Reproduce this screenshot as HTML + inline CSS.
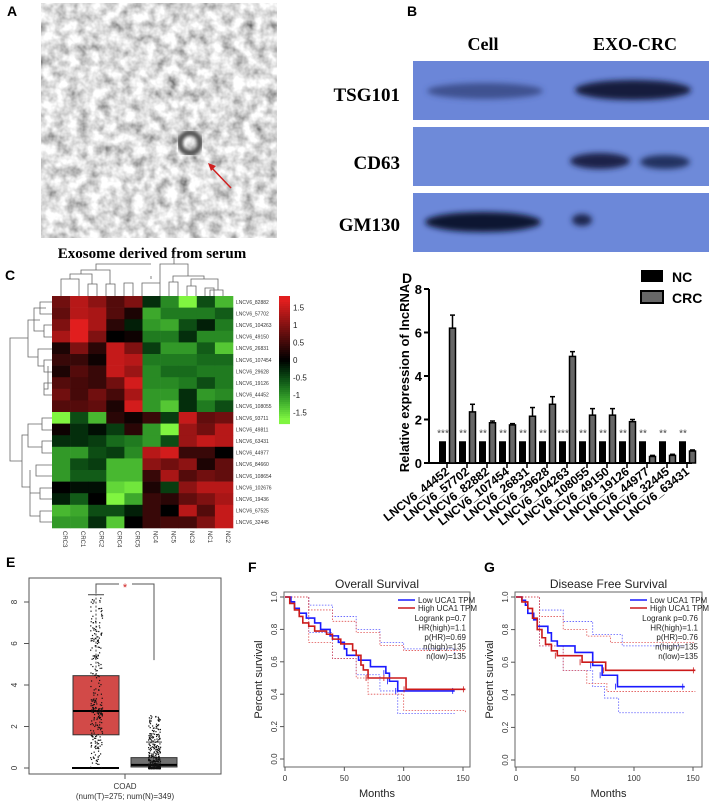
<!DOCTYPE html>
<html><head><meta charset="utf-8"><style>
body{margin:0;background:#fff}
svg{display:block;font-family:"Liberation Sans",sans-serif}
.ser{font-family:"Liberation Serif",serif;font-weight:bold}
</style></head><body>
<svg id="s" width="716" height="801" viewBox="0 0 716 801">
<defs>
<filter id="noise" x="0" y="0" width="100%" height="100%"><feTurbulence type="fractalNoise" baseFrequency="0.09" numOctaves="3" seed="3"/><feColorMatrix type="matrix" values="1.3 0 0 0 0.08  1.3 0 0 0 0.08  1.3 0 0 0 0.08  0 0 0 0 1"/></filter>
<filter id="blur"><feGaussianBlur stdDeviation="3"/></filter>
<filter id="blur2"><feGaussianBlur stdDeviation="1.5"/></filter>
</defs>
<!-- Panel A -->
<g>
<text x="7" y="16" font-weight="bold" font-size="14">A</text>
<rect x="41" y="3" width="236" height="235" fill="#bcbcbc" filter="url(#noise)"/>
<circle cx="190" cy="143" r="10" fill="none" stroke="#555" stroke-width="6" filter="url(#blur2)"/>
<line x1="231" y1="188" x2="210" y2="166" stroke="#d02020" stroke-width="1.5"/>
<path d="M208,163 L216,166 L211,171 Z" fill="#d02020"/>
</g>
<!-- Panel B -->
<g>
<text x="407" y="16" font-weight="bold" font-size="14">B</text>
<text x="483" y="50" class="ser" font-size="18" text-anchor="middle">Cell</text>
<text x="635" y="50" class="ser" font-size="18" text-anchor="middle">EXO-CRC</text>
<text x="400" y="101" class="ser" font-size="19" text-anchor="end">TSG101</text>
<text x="400" y="169" class="ser" font-size="19" text-anchor="end">CD63</text>
<text x="400" y="231" class="ser" font-size="19" text-anchor="end">GM130</text>
<rect x="413" y="61" width="296" height="59" fill="#6b86d8"/>
<rect x="413" y="127" width="296" height="59" fill="#6e8ad9"/>
<rect x="413" y="193" width="296" height="59" fill="#6c88d9"/>
<g filter="url(#blur)">
<ellipse cx="485" cy="91" rx="58" ry="8" fill="#34447e" opacity="0.8"/>
<ellipse cx="633" cy="90" rx="58" ry="10" fill="#141c3c"/>
<ellipse cx="600" cy="161" rx="30" ry="8" fill="#1a2248"/>
<ellipse cx="665" cy="162" rx="25" ry="7" fill="#243060"/>
<ellipse cx="483" cy="222" rx="58" ry="10" fill="#0e1430"/>
<ellipse cx="582" cy="220" rx="10" ry="6" fill="#1e2850"/>
</g>
</g>
<!-- Panel C -->
<g id="heat">
<text x="152" y="258" class="ser" font-size="15" text-anchor="middle">Exosome derived from serum</text>
<text x="5" y="280" font-weight="bold" font-size="14">C</text>
<g id="dendro" stroke="#666" stroke-width="0.8" fill="none">
<path d="M61,296V279H79V296 M88,296V284H97V296 M70,279V274H92V284 M106,296V284H115V296 M81,274V270H110V284 M96,270V264H151 M124,296V283H133V296"/>
<path d="M142,296V283H160V296 M169,296V282H178V296 M187,296V286H196V296 M205,296V288H214V296 M223,296V290H210V296 M191,286V279H218V290 M173,282V276H204V279 M151,276V279 M160,283V264H188V276 M174,264V254"/>
<path d="M52,302H40V314H52 M52,325H44V337H52 M46,308H34V331H44 M52,360H44V372H52 M52,383H44V395H52 M52,349H38V366H44 M48,366V389H44 M40,320H28V357H38 M52,418H42V430H52 M52,441H42V453H52 M52,465H36V476H52 M42,424H28V447H42 M52,488H40V499H52 M52,511H40V522H52 M40,493H30V516H40 M30,470V505 M28,435H22V487H30 M28,338H10V461H22"/>
</g>
<g id="cells"></g>
<g id="rowlabs" font-size="5" fill="#333"></g>
<g id="collabs" font-size="6" fill="#333"></g>
<g id="cbar"></g>
</g>
<!-- Panel D -->
<g id="bar">
<text x="402" y="283" font-weight="bold" font-size="14">D</text>
<text transform="translate(409,378) rotate(-90)" font-weight="bold" font-size="13" text-anchor="middle">Relative expression of  lncRNA</text>
<rect x="641" y="270" width="22" height="12" fill="#000"/>
<text x="672" y="282" font-weight="bold" font-size="14">NC</text>
<rect x="641" y="291" width="22" height="12" fill="#666" stroke="#000" stroke-width="2"/>
<text x="672" y="303" font-weight="bold" font-size="14">CRC</text>
</g>
<!-- Panel E -->
<g id="box">
<text x="6" y="567" font-weight="bold" font-size="14">E</text>
<rect x="29" y="578" width="192" height="196" fill="none" stroke="#555" stroke-width="1"/>
<text x="125" y="789" font-size="8" text-anchor="middle" fill="#333">COAD</text>
<text x="125" y="799" font-size="8" text-anchor="middle" fill="#333">(num(T)=275; num(N)=349)</text>
</g>
<g id="survF">
<text x="248" y="572" font-weight="bold" font-size="14">F</text>
</g>
<g id="survG">
<text x="484" y="572" font-weight="bold" font-size="14">G</text>
</g>
</svg>
<script>
const NS="http://www.w3.org/2000/svg";
function mk(p,t,a){const e=document.createElementNS(NS,t);for(const k in a)e.setAttribute(k,a[k]);p.appendChild(e);return e;}
// ---- Heatmap data ----
const heatRows=["LNCV6_82882","LNCV6_57702","LNCV6_104263","LNCV6_49150","LNCV6_26831","LNCV6_107454","LNCV6_29628","LNCV6_19126","LNCV6_44452","LNCV6_108055","LNCV6_93711","LNCV6_49811","LNCV6_63431","LNCV6_44977","LNCV6_84660","LNCV6_108654","LNCV6_102676","LNCV6_19436","LNCV6_67525","LNCV6_32445"];
const heatCols=["CRC3","CRC1","CRC2","CRC4","CRC5","NC4","NC5","NC3","NC1","NC2"];
const heatVals=[
[0.8,1.3,1.0,0.6,0.9,-0.3,-0.9,-1.6,-0.5,-1.2],
[0.7,1.3,1.2,0.6,0.2,-1.1,-0.8,-0.8,-0.8,-0.6],
[0.9,1.6,1.2,0.3,-0.2,-1.0,-1.1,-0.5,-0.2,-0.8],
[1.2,1.6,0.9,0.0,0.1,-0.8,-0.8,-0.3,-0.9,-0.9],
[0.2,0.9,0.3,1.4,0.9,-0.4,-1.0,-1.0,-0.6,-1.3],
[0.4,0.4,0.1,1.4,1.3,-0.8,-0.8,-0.8,-0.7,-0.7],
[0.2,0.6,0.4,1.4,1.1,-0.9,-0.7,-0.7,-0.8,-0.8],
[0.6,0.5,0.4,0.8,1.5,-0.9,-0.9,-0.8,-0.5,-0.8],
[0.8,0.5,0.8,0.5,1.2,-1.0,-1.0,-0.3,-1.0,-0.9],
[0.6,0.6,0.7,0.2,1.5,-1.0,-1.3,-0.3,-0.8,-0.5],
[-1.6,-0.5,-1.2,0.3,0.1,0.4,-0.4,1.4,0.7,0.8],
[0.1,-0.3,-0.1,-0.4,0.3,-1.0,-1.7,1.1,0.8,1.3],
[-0.3,-0.3,-0.4,-0.7,-0.8,-1.0,-0.5,1.1,1.4,1.3],
[-1.0,-1.0,-0.5,-0.4,-0.9,1.3,1.5,0.4,0.4,0.0],
[-1.0,-0.5,-0.4,-1.2,-1.2,1.0,0.8,1.0,0.2,0.7],
[-1.0,-0.6,-0.6,-1.2,-1.2,0.4,1.2,0.6,0.8,0.7],
[0.0,-0.1,-0.1,-1.4,-1.5,0.2,-0.4,1.0,1.3,1.3],
[-0.2,-0.6,0.0,-1.7,-1.1,0.4,0.3,0.7,0.9,1.2],
[-1.2,-1.1,-0.5,-0.5,-0.2,0.4,0.0,1.3,0.6,1.4],
[-1.0,-1.0,-0.3,-1.3,0.0,0.4,0.5,0.5,0.9,1.4]];
const cbarTicks=[1.5,1,0.5,0,-0.5,-1,-1.5];
function hcol(v){v=Math.max(-1.7,Math.min(1.7,v))/1.6;
 if(v>=0){const t=Math.min(v,1);return `rgb(${Math.round(225*t)},${Math.round(30*t)},${Math.round(30*t)})`;}
 const t=Math.min(-v,1);return `rgb(${Math.round(128*t*t)},${Math.round(245*t)},${Math.round(64*t)})`;}
const hx0=52,hx1=233,hy0=296,hy1=528;
const cw=(hx1-hx0)/heatCols.length, ch=(hy1-hy0)/heatRows.length;
const cells=document.getElementById('cells');
heatVals.forEach((row,r)=>row.forEach((v,c)=>{
 const e=mk(cells,'rect',{x:hx0+c*cw,y:hy0+r*ch,width:cw+0.3,height:ch+0.3,fill:hcol(v)});
 
 
}));
const rl=document.getElementById('rowlabs');
heatRows.forEach((n,r)=>{const t=mk(rl,'text',{x:236,y:hy0+r*ch+ch/2+2});t.textContent=n;
 
 });
const cl=document.getElementById('collabs');
heatCols.forEach((n,c)=>{const t=mk(cl,'text',{transform:`translate(${hx0+c*cw+cw/2+2},531) rotate(90)`});t.textContent=n;
 
 });
const cb=document.getElementById('cbar');
for(let i=0;i<64;i++){const v=1.7-3.4*i/63;const e=mk(cb,'rect',{x:279,y:296+i*2,width:11,height:2.1,fill:hcol(v)});}
const cby=v=>360-v*35;
cbarTicks.forEach(v=>{const t=mk(cb,'text',{x:293,y:cby(v)+3,'font-size':8,fill:'#222'});t.textContent=String(v);
 
 });

// ---- Bar chart D ----
const barCats=["LNCV6_44452","LNCV6_57702","LNCV6_82882","LNCV6_107454","LNCV6_26831","LNCV6_29628","LNCV6_104263","LNCV6_108055","LNCV6_49150","LNCV6_19126","LNCV6_44977","LNCV6_32445","LNCV6_63431"];
const ncVals=[1,1,1,1,1,1,1,1,1,1,1,1,1];
const crcVals=[6.2,2.35,1.85,1.75,2.15,2.7,4.9,2.2,2.2,1.9,0.3,0.35,0.55];
const crcErr=[0.6,0.35,0.08,0.06,0.4,0.35,0.22,0.3,0.3,0.1,0.05,0.05,0.05];
const sigs=["***","**","**","**","**","**","***","**","**","**","**","**","**"];
const yTicksD=[0,2,4,6,8];
const bg=document.getElementById('bar');
const yD=v=>463-v*21.75, xD=i=>434+i*20;
mk(bg,'line',{x1:429,y1:289,x2:429,y2:463,stroke:'#000','stroke-width':2});
mk(bg,'line',{x1:428,y1:463,x2:692,y2:463,stroke:'#000','stroke-width':2});
yTicksD.forEach(v=>{mk(bg,'line',{x1:424,y1:yD(v),x2:429,y2:yD(v),stroke:'#000','stroke-width':2});
 const t=mk(bg,'text',{x:422,y:yD(v)+5,'font-size':13,'font-weight':'bold','text-anchor':'end'});t.textContent=v;
 
 });
barCats.forEach((c,i)=>{
 const x=xD(i);
 const a=mk(bg,'rect',{x:x+5,y:yD(ncVals[i]),width:7,height:yD(0)-yD(ncVals[i]),fill:'#000'});
 
 
 const b=mk(bg,'rect',{x:x+15.5,y:yD(crcVals[i]),width:6,height:yD(0)-yD(crcVals[i]),fill:'#666',stroke:'#000','stroke-width':1.5});
 
 
 const ex=x+18.5;
 mk(bg,'line',{x1:ex,y1:yD(crcVals[i]),x2:ex,y2:yD(crcVals[i]+crcErr[i]),stroke:'#000','stroke-width':1.5});
 mk(bg,'line',{x1:ex-2.5,y1:yD(crcVals[i]+crcErr[i]),x2:ex+2.5,y2:yD(crcVals[i]+crcErr[i]),stroke:'#000','stroke-width':1.5});
 mk(bg,'line',{x1:x+13,y1:463,x2:x+13,y2:468,stroke:'#000','stroke-width':1.5});
 const s=mk(bg,'text',{x:x+9,y:yD(ncVals[i])-5,'font-size':10,fill:'#444','text-anchor':'middle'});s.textContent=sigs[i];
 
 
 const t=mk(bg,'text',{transform:`translate(${x+16},473) rotate(-38)`,'font-size':12,'font-weight':'bold','text-anchor':'end'});t.textContent=c;
 
 
});

// ---- Box plot E ----
const tumorStats=[0,1.6,2.75,4.45,8.35]; // min,q1,median,q3,max
const normalStats=[-0.05,0.05,0.15,0.5,1.25];
const yTicksE=[0,2,4,6,8];
const eg=document.getElementById('box');
const yE=v=>768-v*20.75;
yTicksE.forEach(v=>{mk(eg,'line',{x1:24,y1:yE(v),x2:29,y2:yE(v),stroke:'#555'});
 const t=mk(eg,'text',{transform:`translate(17,${yE(v)}) rotate(-90)`,'font-size':8,'text-anchor':'middle',fill:'#333'});t.textContent=v;
 
 });
mk(eg,'line',{x1:125,y1:774,x2:125,y2:779,stroke:'#555'});
function drawBox(cx,st,fill,name){
 mk(eg,'line',{x1:cx,y1:yE(st[3]),x2:cx,y2:yE(st[4]),stroke:'#444','stroke-dasharray':'2,2'});
 mk(eg,'line',{x1:cx-8,y1:yE(st[4]),x2:cx+8,y2:yE(st[4]),stroke:'#444'});
 const r=mk(eg,'rect',{x:cx-23,y:yE(st[3]),width:46,height:yE(st[1])-yE(st[3]),fill:fill,stroke:'#333'});
 
 
 mk(eg,'line',{x1:cx-23,y1:yE(st[2]),x2:cx+23,y2:yE(st[2]),stroke:'#000','stroke-width':2});
}
drawBox(96,tumorStats,'#d24a48','box-tumor');
drawBox(154,normalStats,'#707070','box-normal');
mk(eg,'line',{x1:72,y1:yE(tumorStats[0]),x2:119,y2:yE(tumorStats[0]),stroke:'#000','stroke-width':2});
// jitter texture (deterministic)
let seed=7;const rnd=()=>{seed=(seed*16807)%2147483647;return seed/2147483647;};
const dots=mk(eg,'g',{fill:'#111'});
for(let i=0;i<275;i++){const u=rnd();const v=u<0.5?tumorStats[0]+Math.pow(rnd(),0.7)*(tumorStats[2]-tumorStats[0]+0.2):tumorStats[2]+Math.pow(rnd(),1.3)*(tumorStats[4]-tumorStats[2]);
 mk(dots,'rect',{x:96+(rnd()-0.5)*12,y:yE(v),width:1.2,height:1.2});}
for(let i=0;i<349;i++){const v=Math.pow(rnd(),3)*2.6;mk(dots,'rect',{x:154+(rnd()-0.5)*12,y:yE(v),width:1.2,height:1.2});}
mk(eg,'path',{d:`M96,${yE(tumorStats[4])-1}V584H119 M132,584H154V${yE(5.2)}`,stroke:'#555',fill:'none'});
const st=mk(eg,'text',{x:125,y:591,'font-size':11,fill:'#d02020','text-anchor':'middle'});st.textContent='*';

// ---- Survival ----
const monthTicks=[0,50,100,150];
const survTicks=[0.0,0.2,0.4,0.6,0.8,1.0];
const fLowT=[0,5,8,12,18,25,30,38,45,50,52,62,72,85,88,95,143];
const fLowS=[1,0.97,0.93,0.9,0.87,0.84,0.8,0.76,0.72,0.68,0.64,0.61,0.57,0.53,0.48,0.42,0.42];
const fHighT=[0,4,8,12,15,20,25,35,40,47,57,60,64,66,70,85,102,152];
const fHighS=[1,0.96,0.92,0.88,0.84,0.82,0.79,0.77,0.74,0.71,0.67,0.64,0.58,0.55,0.5,0.5,0.43,0.43];
const fLowUpT=[0,20,40,60,80,100,143], fLowUpS=[1,0.95,0.88,0.8,0.72,0.68,0.65];
const fLowLoT=[0,20,40,60,80,95,143], fLowLoS=[1,0.78,0.62,0.52,0.42,0.28,0.28];
const fHighUpT=[0,20,40,60,80,100,152], fHighUpS=[1,0.92,0.85,0.78,0.7,0.67,0.67];
const fHighLoT=[0,20,40,60,70,100,152], fHighLoS=[1,0.72,0.62,0.5,0.4,0.3,0.28];
const gLowT=[0,5,8,10,15,18,27,30,35,50,65,73,86,143];
const gLowS=[1,0.98,0.95,0.9,0.86,0.82,0.78,0.73,0.7,0.66,0.58,0.52,0.45,0.45];
const gHighT=[0,5,10,14,18,22,25,30,35,56,76,152];
const gHighS=[1,0.97,0.93,0.87,0.8,0.75,0.71,0.67,0.64,0.6,0.55,0.55];
const gLowUpT=[0,20,40,65,90,143], gLowUpS=[1,0.92,0.85,0.77,0.7,0.7];
const gLowLoT=[0,20,40,65,75,87,143], gLowLoS=[1,0.7,0.55,0.45,0.38,0.29,0.29];
const gHighUpT=[0,20,40,60,80,152], gHighUpS=[1,0.88,0.8,0.76,0.72,0.72];
const gHighLoT=[0,20,40,60,77,152], gHighLoS=[1,0.7,0.55,0.47,0.42,0.42];
const fStats=["Logrank p=0.7","HR(high)=1.1","p(HR)=0.69","n(high)=135","n(low)=135"];
const gStats=["Logrank p=0.76","HR(high)=1.1","p(HR)=0.76","n(high)=135","n(low)=135"];
function surv(gid,P,title,curves,stats){
 const g=document.getElementById(gid);
 const X=t=>P.x0+t*(P.x150-P.x0)/150, Y=s=>P.y0-s*(P.y0-P.y1);
 mk(g,'rect',{x:P.L,y:P.T,width:P.R-P.L,height:P.B-P.T,fill:'none',stroke:'#666'});
 const tt=mk(g,'text',{x:(P.L+P.R)/2,y:P.T-4,'font-size':12,'text-anchor':'middle',fill:'#222'});tt.textContent=title;
 
 
 monthTicks.forEach(v=>{mk(g,'line',{x1:X(v),y1:P.B,x2:X(v),y2:P.B+4,stroke:'#555'});
  const t=mk(g,'text',{x:X(v),y:P.B+14,'font-size':8,'text-anchor':'middle',fill:'#333'});t.textContent=v;
  
  });
 survTicks.forEach(v=>{mk(g,'line',{x1:P.L-4,y1:Y(v),x2:P.L,y2:Y(v),stroke:'#555'});
  const t=mk(g,'text',{transform:`translate(${P.L-7},${Y(v)}) rotate(-90)`,'font-size':8,'text-anchor':'middle',fill:'#333'});t.textContent=v.toFixed(1);
  
  });
 const xl=mk(g,'text',{x:(P.L+P.R)/2,y:P.B+30,'font-size':11,'text-anchor':'middle',fill:'#222'});xl.textContent='Months';
 
 
 const yl=mk(g,'text',{transform:`translate(${P.L-22},${(P.T+P.B)/2}) rotate(-90)`,'font-size':11,'text-anchor':'middle',fill:'#222'});yl.textContent='Percent survival';
 
 
 curves.forEach(c=>{let d=`M${X(c.t[0])},${Y(c.s[0])}`;
  for(let i=1;i<c.t.length;i++)d+=`H${X(c.t[i])}V${Y(c.s[i])}`;
  const p=mk(g,'path',{d:d,fill:'none',stroke:c.col,'stroke-width':c.dash?0.8:1.6,'stroke-dasharray':c.dash?'1.5,1.5':'none'});
  
  
  if(!c.dash){for(let i=c.t.length-4;i<c.t.length;i++)mk(g,'line',{x1:X(c.t[i])-2,y1:Y(c.s[i])-3,x2:X(c.t[i])-2,y2:Y(c.s[i])+3,stroke:c.col,'stroke-width':0.8});}
 });
 const lx=P.R-72, ly=P.T+8;
 mk(g,'line',{x1:lx,y1:ly,x2:lx+17,y2:ly,stroke:'#1a1aff','stroke-width':1.6});
 mk(g,'line',{x1:lx,y1:ly+8,x2:lx+17,y2:ly+8,stroke:'#cc1a1a','stroke-width':1.6});
 const l1=mk(g,'text',{x:lx+20,y:ly+3,'font-size':8,fill:'#222'});l1.textContent='Low UCA1 TPM';
 
 
 const l2=mk(g,'text',{x:lx+20,y:ly+11,'font-size':8,fill:'#222'});l2.textContent='High UCA1 TPM';
 
 
 stats.forEach((s,i)=>{const t=mk(g,'text',{x:P.R-4,y:ly+21+i*9.5,'font-size':8,'text-anchor':'end',fill:'#222'});t.textContent=s;
  
  });
}
surv('survF',{L:284,R:470,T:592,B:767,x0:285,x150:463,y0:759,y1:597},'Overall Survival',[
 {t:fLowUpT,s:fLowUpS,col:'#5a5aff',dash:1,name:'ci-low-upper'},{t:fLowLoT,s:fLowLoS,col:'#5a5aff',dash:1,name:'ci-low-lower'},
 {t:fHighUpT,s:fHighUpS,col:'#e05050',dash:1,name:'ci-high-upper'},{t:fHighLoT,s:fHighLoS,col:'#e05050',dash:1,name:'ci-high-lower'},
 {t:fLowT,s:fLowS,col:'#1a1aff',name:'curve-low'},{t:fHighT,s:fHighS,col:'#cc1a1a',name:'curve-high'}],fStats);
surv('survG',{L:515,R:702,T:592,B:767,x0:516,x150:693,y0:760,y1:597},'Disease Free Survival',[
 {t:gLowUpT,s:gLowUpS,col:'#5a5aff',dash:1,name:'ci-low-upper'},{t:gLowLoT,s:gLowLoS,col:'#5a5aff',dash:1,name:'ci-low-lower'},
 {t:gHighUpT,s:gHighUpS,col:'#e05050',dash:1,name:'ci-high-upper'},{t:gHighLoT,s:gHighLoS,col:'#e05050',dash:1,name:'ci-high-lower'},
 {t:gLowT,s:gLowS,col:'#1a1aff',name:'curve-low'},{t:gHighT,s:gHighS,col:'#cc1a1a',name:'curve-high'}],gStats);
</script>
</body></html>
